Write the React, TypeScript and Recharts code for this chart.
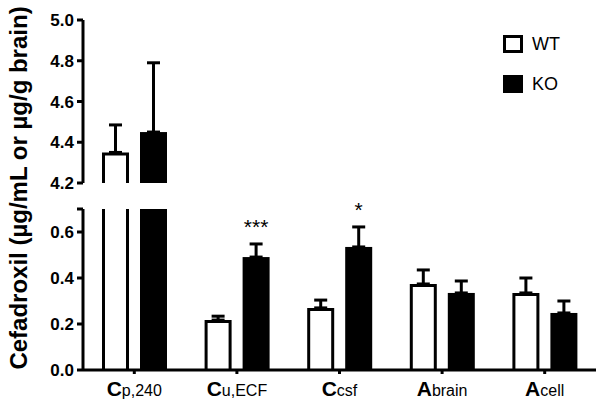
import React from 'react';
import { BarChart, Bar, XAxis, YAxis, ErrorBar, LabelList, Legend } from 'recharts';

// categories (bold letter + small suffix on the axis)
const categories = ['Cp,240', 'Cu,ECF', 'Ccsf', 'Abrain', 'Acell'];
const tickMain = ['C', 'C', 'C', 'A', 'A'];
const tickSub = ['p,240', 'u,ECF', 'csf', 'brain', 'cell'];

// mean and SEM (upward only)
const wtMean = [4.35, 0.217, 0.27, 0.374, 0.335];
const wtSem = [0.135, 0.017, 0.034, 0.061, 0.065];
const koMean = [4.45, 0.491, 0.535, 0.335, 0.248];
const koSem = [0.34, 0.057, 0.087, 0.052, 0.052];
const signif = ['', '***', '*', '', ''];

// broken axis: two panels
const upperDomain = [4.2, 5.0];
const upperTicks = [4.2, 4.4, 4.6, 4.8, 5.0];
const lowerDomain = [0, 0.7];
const lowerTicks = [0, 0.2, 0.4, 0.6, 0.7];

const FONT = '"Liberation Sans", Arial, Helvetica, sans-serif';

const upperData = categories.map((name, i) => ({
  name,
  wt: wtMean[i] > upperDomain[0] ? wtMean[i] : null,
  wtErr: wtMean[i] > upperDomain[0] ? [0, wtSem[i]] : null,
  ko: koMean[i] > upperDomain[0] ? koMean[i] : null,
  koErr: koMean[i] > upperDomain[0] ? [0, koSem[i]] : null,
}));

const lowerData = categories.map((name, i) => ({
  name,
  wt: wtMean[i],
  wtErr: wtMean[i] > lowerDomain[1] ? null : [0, wtSem[i]],
  ko: koMean[i],
  koErr: koMean[i] > lowerDomain[1] ? null : [0, koSem[i]],
}));

// open-bottom outlined bar for WT, solid bar for KO
const BarShape = (props: any) => {
  const { x, y, width, height, fill } = props;
  if (height == null || height <= 0) return null;
  if (fill === '#ffffff') {
    const s = 1.5;
    const d = `M${x + s},${y + height} L${x + s},${y + s} L${x + width - s},${y + s} L${x + width - s},${y + height}`;
    return <path d={d} fill="#ffffff" stroke="#000" strokeWidth={3} />;
  }
  return <rect x={x} y={y} width={width} height={height} fill="#000" />;
};

const CategoryTick = (props: any) => {
  const { x, y, payload } = props;
  const i = categories.indexOf(payload.value);
  return (
    <text x={x} y={y + 20} textAnchor="middle" fontFamily={FONT} fill="#000">
      <tspan fontSize={21} fontWeight="bold">{tickMain[i]}</tspan>
      <tspan fontSize={16}>{tickSub[i]}</tspan>
    </text>
  );
};

// significance marks sit above the KO error bar; the bar's own px/unit gives the SEM length
const SigLabel = (props: any) => {
  const { x, y, width, height, value } = props;
  const i = categories.indexOf(value);
  if (i < 0 || !signif[i] || !height) return null;
  const errPx = (koSem[i] * height) / koMean[i];
  return (
    <text x={x + width / 2} y={y - errPx - 10} textAnchor="middle" fontSize={21} fontFamily={FONT} fill="#000">
      {signif[i]}
    </text>
  );
};

const renderLegend = (props: any) => {
  const { payload } = props;
  return (
    <div style={{ fontFamily: FONT }}>
      {payload.map((p: any) => (
        <div key={p.value} style={{ display: 'flex', alignItems: 'center', height: 18, marginBottom: 22 }}>
          <div
            style={{
              width: 20,
              height: 18,
              boxSizing: 'border-box',
              background: p.color === '#ffffff' ? '#fff' : '#000',
              border: '3px solid #000',
            }}
          />
          <span style={{ marginLeft: 9, fontSize: 18, color: '#000' }}>{p.value}</span>
        </div>
      ))}
    </div>
  );
};

const yTickStyle = { fill: '#000', fontSize: 17, fontWeight: 'bold', fontFamily: FONT };
const axisLineStyle = { stroke: '#000', strokeWidth: 3 };

export default function App() {
  return (
    <div style={{ position: 'absolute', left: 0, top: 0, width: 604, height: 410, background: '#fff' }}>
      <svg width={604} height={410} style={{ position: 'absolute', left: 0, top: 0 }}>
        <text
          x={27}
          y={188}
          transform="rotate(-90, 27, 188)"
          textAnchor="middle"
          fontSize={24}
          fontWeight="bold"
          fontFamily={FONT}
          fill="#000"
        >
          Cefadroxil (µg/mL or µg/g brain)
        </text>
      </svg>

      <div style={{ position: 'absolute', left: 0, top: 190 }}>
        <BarChart
          width={604}
          height={220}
          data={lowerData}
          margin={{ top: 19, right: 8, bottom: 0, left: 0 }}
          barCategoryGap={19}
          barGap={11}
        >
          <XAxis
            dataKey="name"
            height={40}
            tick={<CategoryTick />}
            axisLine={axisLineStyle}
            tickLine={axisLineStyle}
            tickSize={4}
            tickMargin={2}
            interval={0}
          />
          <YAxis
            type="number"
            width={83}
            domain={lowerDomain}
            ticks={lowerTicks}
            interval={0}
            allowDataOverflow
            tickFormatter={(v: number) => (v === lowerDomain[1] ? '' : v.toFixed(1))}
            tick={yTickStyle}
            axisLine={axisLineStyle}
            tickLine={axisLineStyle}
            tickSize={6}
            tickMargin={3}
          />
          <Bar name="WT" dataKey="wt" fill="#ffffff" shape={BarShape} isAnimationActive={false}>
            <ErrorBar dataKey="wtErr" width={6.5} stroke="#000" strokeWidth={3} direction="y" />
          </Bar>
          <Bar name="KO" dataKey="ko" fill="#000000" shape={BarShape} isAnimationActive={false}>
            <ErrorBar dataKey="koErr" width={6.5} stroke="#000" strokeWidth={3} direction="y" />
            <LabelList dataKey="name" content={SigLabel} />
          </Bar>
        </BarChart>
      </div>

      <div style={{ position: 'absolute', left: 0, top: 0 }}>
        <BarChart
          width={604}
          height={200}
          data={upperData}
          margin={{ top: 20, right: 8, bottom: 17, left: 0 }}
          barCategoryGap={19}
          barGap={11}
        >
          <XAxis dataKey="name" hide />
          <YAxis
            type="number"
            width={83}
            domain={upperDomain}
            ticks={upperTicks}
            interval={0}
            allowDataOverflow
            tickFormatter={(v: number) => v.toFixed(1)}
            tick={yTickStyle}
            axisLine={axisLineStyle}
            tickLine={axisLineStyle}
            tickSize={6}
            tickMargin={3}
          />
          <Legend
            layout="vertical"
            align="center"
            verticalAlign="middle"
            itemSorter={(item: any) => (item.value === 'WT' ? 0 : 1)}
            content={renderLegend}
            wrapperStyle={{ left: 503, top: 35, width: 100 }}
          />
          <Bar name="WT" dataKey="wt" fill="#ffffff" shape={BarShape} isAnimationActive={false}>
            <ErrorBar dataKey="wtErr" width={6.5} stroke="#000" strokeWidth={3} direction="y" />
          </Bar>
          <Bar name="KO" dataKey="ko" fill="#000000" shape={BarShape} isAnimationActive={false}>
            <ErrorBar dataKey="koErr" width={6.5} stroke="#000" strokeWidth={3} direction="y" />
          </Bar>
        </BarChart>
      </div>
    </div>
  );
}
